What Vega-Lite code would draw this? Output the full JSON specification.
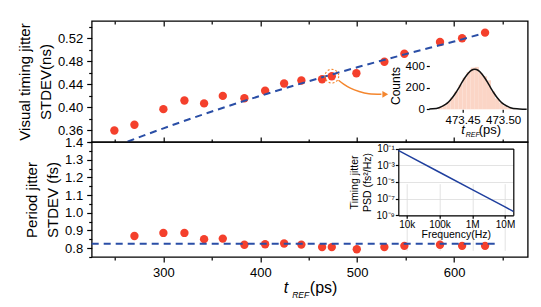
{
  "$schema": "https://vega.github.io/schema/vega-lite/v6.json",
  "autosize": {"type": "none"},
  "padding": {"left": 91.7, "top": 21, "right": 449.3, "bottom": 286},
  "config": {
    "font": "Liberation Sans",
    "view": {"stroke": "#000", "strokeWidth": 1.3},
    "axis": {"domain": false, "grid": false, "tickColor": "#000", "labelColor": "#000", "titleColor": "#000", "labelFont": "Liberation Sans", "titleFont": "Liberation Sans", "titleFontWeight": "normal", "tickWidth": 1.2, "labelFontSize": 13, "titleFontSize": 15, "labelPadding": 4}
  },
  "datasets": {
    "top": [
      {"t": 249.4, "v": 0.360}, {"t": 270.1, "v": 0.370}, {"t": 300, "v": 0.397}, {"t": 321.7, "v": 0.412},
      {"t": 342, "v": 0.407}, {"t": 361.3, "v": 0.420}, {"t": 383.6, "v": 0.416}, {"t": 405, "v": 0.429},
      {"t": 424.6, "v": 0.4415}, {"t": 442.4, "v": 0.4467}, {"t": 463.8, "v": 0.449}, {"t": 473.8, "v": 0.4542},
      {"t": 499.2, "v": 0.4594}, {"t": 528.1, "v": 0.4792}, {"t": 548.7, "v": 0.4931}, {"t": 585.5, "v": 0.5135},
      {"t": 608.3, "v": 0.520}, {"t": 632, "v": 0.5298}
    ],
    "fit": [
      {"t": 263, "v": 0.3406}, {"t": 280, "v": 0.3514}, {"t": 300, "v": 0.3637}, {"t": 325, "v": 0.3786},
      {"t": 350, "v": 0.3929}, {"t": 375, "v": 0.4067}, {"t": 400, "v": 0.42}, {"t": 425, "v": 0.4329},
      {"t": 450, "v": 0.4455}, {"t": 475, "v": 0.4577}, {"t": 500, "v": 0.4696}, {"t": 525, "v": 0.4812},
      {"t": 550, "v": 0.4925}, {"t": 575, "v": 0.5036}, {"t": 600, "v": 0.5144}, {"t": 630, "v": 0.5285}
    ],
    "arrow": [
      {"t": 480.7, "v": 0.4472}, {"t": 486, "v": 0.4405}, {"t": 493, "v": 0.4335}, {"t": 502, "v": 0.4275},
      {"t": 512, "v": 0.4238}, {"t": 525, "v": 0.4228}
    ],
    "arrowhead": [{"t": 529, "v": 0.4228}],
    "circled": [{"t": 473.8, "v": 0.4542}],
    "hist": [
      {"a": 473.420, "b": 473.425, "n": 18}, {"a": 473.425, "b": 473.430, "n": 36}, {"a": 473.430, "b": 473.435, "n": 66},
      {"a": 473.435, "b": 473.440, "n": 110}, {"a": 473.440, "b": 473.445, "n": 165}, {"a": 473.445, "b": 473.450, "n": 228},
      {"a": 473.450, "b": 473.455, "n": 292}, {"a": 473.455, "b": 473.460, "n": 345}, {"a": 473.460, "b": 473.465, "n": 385},
      {"a": 473.465, "b": 473.470, "n": 392}, {"a": 473.470, "b": 473.475, "n": 335}, {"a": 473.475, "b": 473.480, "n": 305},
      {"a": 473.480, "b": 473.485, "n": 268}, {"a": 473.485, "b": 473.490, "n": 165}, {"a": 473.490, "b": 473.495, "n": 100},
      {"a": 473.495, "b": 473.500, "n": 62}, {"a": 473.500, "b": 473.505, "n": 34}, {"a": 473.505, "b": 473.510, "n": 17},
      {"a": 473.510, "b": 473.515, "n": 7}
    ],
    "gauss": [
      {"t": 473.409, "c": 2}, {"t": 473.413, "c": 4}, {"t": 473.421, "c": 15}, {"t": 473.429, "c": 45},
      {"t": 473.433, "c": 70}, {"t": 473.437, "c": 104}, {"t": 473.441, "c": 146}, {"t": 473.445, "c": 194},
      {"t": 473.449, "c": 246}, {"t": 473.453, "c": 294}, {"t": 473.457, "c": 334}, {"t": 473.461, "c": 361},
      {"t": 473.465, "c": 370}, {"t": 473.469, "c": 361}, {"t": 473.473, "c": 334}, {"t": 473.477, "c": 294},
      {"t": 473.481, "c": 246}, {"t": 473.485, "c": 194}, {"t": 473.489, "c": 146}, {"t": 473.493, "c": 104},
      {"t": 473.497, "c": 70}, {"t": 473.501, "c": 45}, {"t": 473.509, "c": 15}, {"t": 473.517, "c": 4},
      {"t": 473.525, "c": 1}, {"t": 473.529, "c": 0.4}
    ],
    "bottom": [
      {"t": 270.1, "p": 0.869}, {"t": 300, "p": 0.886}, {"t": 321.7, "p": 0.886}, {"t": 342, "p": 0.851},
      {"t": 361.3, "p": 0.854}, {"t": 383.6, "p": 0.819}, {"t": 405, "p": 0.822}, {"t": 424.6, "p": 0.826},
      {"t": 442.4, "p": 0.820}, {"t": 463.8, "p": 0.806}, {"t": 473.8, "p": 0.806}, {"t": 499.6, "p": 0.794},
      {"t": 528.1, "p": 0.806}, {"t": 548.7, "p": 0.813}, {"t": 585.5, "p": 0.819}, {"t": 608.3, "p": 0.813},
      {"t": 632, "p": 0.813}
    ],
    "level": [{"t": 226, "p": 0.825}, {"t": 644, "p": 0.825}],
    "psd": [
      {"f": 5540, "s": 0.06}, {"f": 10000, "s": 0.0175}, {"f": 100000, "s": 0.000146},
      {"f": 1000000, "s": 0.00000121}, {"f": 10000000, "s": 0.0000000101}, {"f": 17900000, "s": 0.000000003}
    ]
  },
  "spacing": 0,
  "bounds": "flush",
  "vconcat": [
    {
      "width": 436, "height": 121,
      "layer": [
        {
          "layer": [
            {
              "data": {"name": "top"},
              "mark": {"type": "circle", "color": "#f4402c", "size": 70, "opacity": 1},
              "encoding": {
                "x": {"field": "t", "type": "quantitative", "scale": {"domain": [226, 676], "nice": false, "zero": false},
                      "axis": {"orient": "bottom", "values": [300, 400, 500, 600], "tickSize": -5, "labels": false, "title": null}},
                "y": {"field": "v", "type": "quantitative", "scale": {"domain": [0.34, 0.55], "nice": false, "zero": false},
                      "axis": {"values": [0.36, 0.40, 0.44, 0.48, 0.52], "format": ".2f", "tickSize": 5, "title": ["Visual timing jitter", "STDEV(ns)"], "titlePadding": 4, "titleLineHeight": 21}}
              }
            },
            {
              "data": {"name": "fit"},
              "mark": {"type": "line", "color": "#2a4ea6", "strokeWidth": 2, "strokeDash": [7, 5], "interpolate": "monotone"},
              "encoding": {
                "x": {"field": "t", "type": "quantitative", "axis": {"orient": "top", "values": [300, 400, 500, 600], "tickSize": -5, "labels": false, "title": null}},
                "y": {"field": "v", "type": "quantitative", "axis": {"orient": "left", "values": [0.34, 0.38, 0.42, 0.46, 0.50, 0.54], "tickSize": 3, "labels": false, "title": null}}
              }
            },
            {
              "data": {"name": "arrow"},
              "mark": {"type": "line", "color": "#f4862e", "strokeWidth": 1.5, "interpolate": "monotone"},
              "encoding": {
                "x": {"field": "t", "type": "quantitative", "axis": {"orient": "bottom", "values": [250, 350, 450, 550, 650], "tickSize": -3, "labels": false, "title": null}},
                "y": {"field": "v", "type": "quantitative", "axis": null}
              }
            },
            {
              "data": {"name": "arrowhead"},
              "mark": {"type": "point", "shape": "triangle-right", "filled": true, "color": "#f4862e", "size": 45, "opacity": 1},
              "encoding": {
                "x": {"field": "t", "type": "quantitative", "axis": {"orient": "top", "values": [250, 350, 450, 550, 650], "tickSize": -3, "labels": false, "title": null}},
                "y": {"field": "v", "type": "quantitative", "axis": null}
              }
            },
            {
              "data": {"name": "circled"},
              "mark": {"type": "point", "shape": "circle", "filled": false, "color": "#f4862e", "strokeWidth": 1.2, "strokeDash": [2, 2], "size": 190, "opacity": 1},
              "encoding": {
                "x": {"field": "t", "type": "quantitative", "axis": null},
                "y": {"field": "v", "type": "quantitative", "axis": null}
              }
            }
          ],
          "resolve": {"axis": {"x": "independent", "y": "independent"}}
        },
        {
          "layer": [
            {
              "data": {"name": "hist"},
              "mark": {"type": "rect", "color": "#fbd5c6", "opacity": 1},
              "encoding": {
                "x": {"field": "a", "type": "quantitative", "scale": {"domain": [473.409, 473.529], "range": [337.6, 435], "nice": false, "zero": false},
                      "axis": {"orient": "bottom", "offset": -32.7, "values": [473.45, 473.5], "format": ".2f", "tickSize": 3, "labelFontSize": 11.5, "labelPadding": 2,
                               "title": "t", "titleFontStyle": "italic", "titleFontSize": 13, "titleX": 369, "titleY": 24.5, "titleAlign": "left", "titleBaseline": "alphabetic", "titleAngle": 0}},
                "x2": {"field": "b"},
                "y": {"field": "n", "type": "quantitative", "scale": {"domain": [0, 440], "range": [88.3, 40.7], "nice": false, "zero": false},
                      "axis": {"orient": "left", "offset": -337.6, "values": [0, 200, 400], "tickSize": 3, "labelFontSize": 11.5, "labelPadding": 2, "title": "Counts", "titleFontSize": 12, "titlePadding": 3}},
                "y2": {"datum": 0}
              }
            },
            {
              "data": {"name": "gauss"},
              "mark": {"type": "line", "color": "#111", "strokeWidth": 1.5, "interpolate": "monotone"},
              "encoding": {
                "x": {"field": "t", "type": "quantitative",
                      "axis": {"orient": "bottom", "offset": -32.7, "ticks": false, "labels": false,
                               "title": "REF", "titleFontStyle": "italic", "titleFontSize": 7, "titleX": 373.5, "titleY": 27.5, "titleAlign": "left", "titleBaseline": "alphabetic", "titleAngle": 0}},
                "y": {"field": "c", "type": "quantitative", "axis": null}
              }
            },
            {
              "mark": {"type": "rect", "fill": null, "fillOpacity": 0, "stroke": "#000", "strokeWidth": 1.2},
              "encoding": {
                "x": {"datum": 473.409, "type": "quantitative",
                      "axis": {"orient": "bottom", "offset": -32.7, "ticks": false, "labels": false,
                               "title": "(ps)", "titleFontSize": 13, "titleX": 386.5, "titleY": 24.5, "titleAlign": "left", "titleBaseline": "alphabetic", "titleAngle": 0}},
                "x2": {"datum": 473.529},
                "y": {"datum": 0, "type": "quantitative", "axis": null},
                "y2": {"datum": 440}
              }
            }
          ],
          "resolve": {"axis": {"x": "independent", "y": "independent"}}
        }
      ],
      "resolve": {"scale": {"x": "independent", "y": "independent"}, "axis": {"x": "independent", "y": "independent"}}
    },
    {
      "width": 436, "height": 115,
      "layer": [
        {
          "layer": [
            {
              "data": {"name": "bottom"},
              "mark": {"type": "circle", "color": "#f4402c", "size": 70, "opacity": 1},
              "encoding": {
                "x": {"field": "t", "type": "quantitative", "scale": {"domain": [226, 676], "nice": false, "zero": false},
                      "axis": {"orient": "bottom", "values": [300, 400, 500, 600], "tickSize": 5, "labelPadding": 4,
                               "title": "t", "titleFontStyle": "italic", "titleFontSize": 16, "titleX": 191.6, "titleY": 35, "titleAlign": "left", "titleBaseline": "alphabetic", "titleAngle": 0}},
                "y": {"field": "p", "type": "quantitative", "scale": {"domain": [0.75, 1.4], "nice": false, "zero": false},
                      "axis": {"values": [0.8, 0.9, 1.0, 1.1, 1.2, 1.3, 1.4], "format": ".1f", "tickSize": 5, "title": ["Period jitter", "STDEV (fs)"], "titlePadding": 4, "titleLineHeight": 21}}
              }
            },
            {
              "data": {"name": "level"},
              "mark": {"type": "line", "color": "#2a4ea6", "strokeWidth": 2, "strokeDash": [7, 5]},
              "encoding": {
                "x": {"field": "t", "type": "quantitative",
                      "axis": {"orient": "bottom", "values": [250, 350, 450, 550, 650], "tickSize": 3, "labels": false,
                               "title": "REF", "titleFontStyle": "italic", "titleFontSize": 8.5, "titleX": 200, "titleY": 40, "titleAlign": "left", "titleBaseline": "alphabetic", "titleAngle": 0}},
                "y": {"field": "p", "type": "quantitative",
                      "axis": {"orient": "left", "values": [0.75, 0.85, 0.95, 1.05, 1.15, 1.25, 1.35], "tickSize": 3, "labels": false,
                               "title": "(ps)", "titleFontSize": 16, "titleX": 217.6, "titleY": 150, "titleAlign": "left", "titleBaseline": "alphabetic", "titleAngle": 0}}
              }
            }
          ],
          "resolve": {"axis": {"x": "independent", "y": "independent"}}
        },
        {
          "layer": [
            {
              "data": {"name": "psd"},
              "mark": {"type": "line", "color": "#1f3f9e", "strokeWidth": 1.5},
              "encoding": {
                "x": {"field": "f", "type": "quantitative", "scale": {"type": "log", "domain": [5540, 17900000], "range": [306.6, 421.6], "nice": false},
                      "axis": {"orient": "bottom", "offset": -41.7, "values": [10000, 100000, 1000000, 10000000], "tickSize": 3, "labelFontSize": 10, "labelPadding": 1,
                               "labelExpr": "datum.value >= 5000000 ? '10M' : datum.value >= 500000 ? '1M' : datum.value >= 50000 ? '100k' : '10k'",
                               "domain": true, "domainColor": "#000", "domainWidth": 1.2,
                               "grid": true, "gridColor": "#dcdcdc", "gridWidth": 0.8,
                               "title": "Frequency(Hz)", "titleFontSize": 10.5, "titlePadding": 0}},
                "y": {"field": "s", "type": "quantitative", "scale": {"type": "log", "domain": [1e-9, 0.1], "range": [73.3, 6.6], "nice": false},
                      "axis": {"orient": "left", "offset": -306.6, "values": [1e-9, 1e-7, 1e-5, 1e-3, 0.1], "tickSize": 3, "labelFontSize": 10, "labelPadding": 1,
                               "labelExpr": "datum.value > 0.01 ? '10⁻¹' : datum.value > 0.0001 ? '10⁻³' : datum.value > 0.000001 ? '10⁻⁵' : datum.value > 0.00000001 ? '10⁻⁷' : '10⁻⁹'",
                               "domain": true, "domainColor": "#000", "domainWidth": 1.2,
                               "grid": true, "gridColor": "#dcdcdc", "gridWidth": 0.8,
                               "title": ["Timing jitter", "PSD (fs²/Hz)"], "titleFontSize": 10.5, "titleLineHeight": 13, "titlePadding": 3}}
              }
            },
            {
              "mark": {"type": "rect", "fill": null, "fillOpacity": 0, "stroke": "#000", "strokeWidth": 1.2},
              "encoding": {
                "x": {"datum": 5540, "type": "quantitative",
                      "axis": {"orient": "top", "offset": -6.6, "ticks": false, "labels": false, "title": null, "domain": true, "domainColor": "#000", "domainWidth": 1.2}},
                "x2": {"datum": 17900000},
                "y": {"datum": 1e-9, "type": "quantitative",
                      "axis": {"orient": "right", "offset": -14.4, "ticks": false, "labels": false, "title": null, "domain": true, "domainColor": "#000", "domainWidth": 1.2}},
                "y2": {"datum": 0.1}
              }
            }
          ],
          "resolve": {"axis": {"x": "independent", "y": "independent"}}
        }
      ],
      "resolve": {"scale": {"x": "independent", "y": "independent"}, "axis": {"x": "independent", "y": "independent"}}
    }
  ]
}
